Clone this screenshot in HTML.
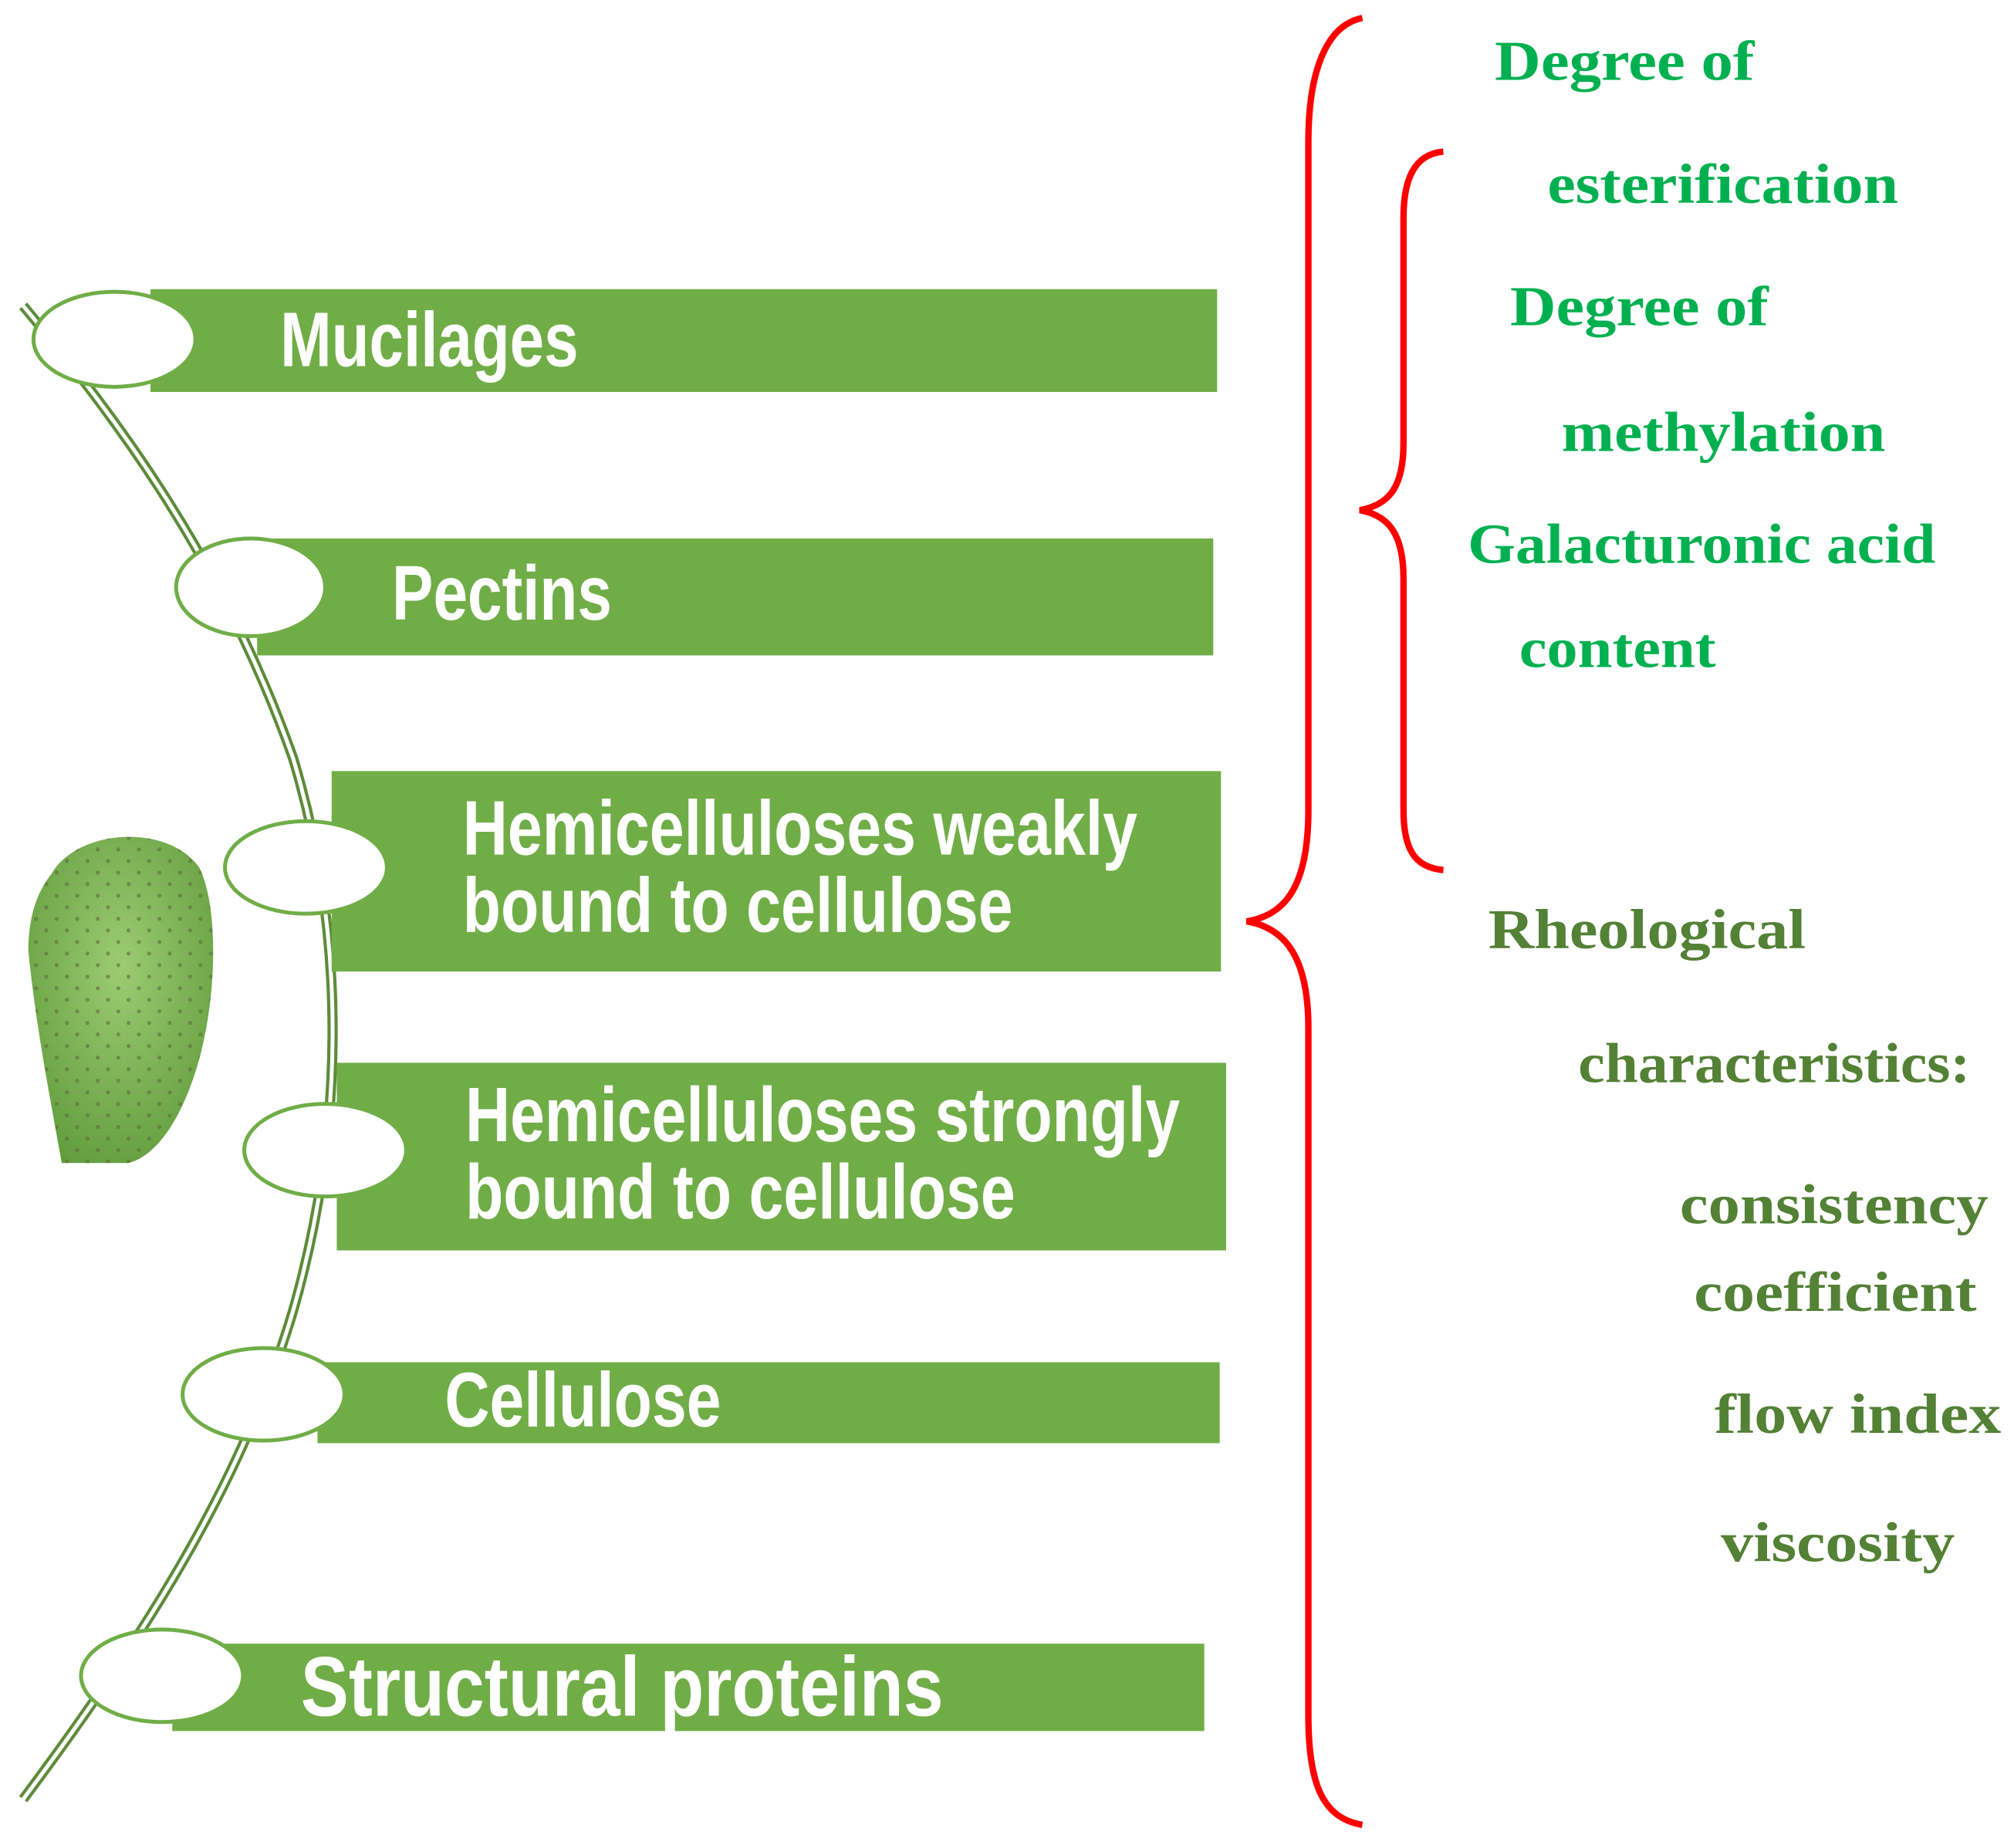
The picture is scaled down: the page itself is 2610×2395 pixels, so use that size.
<!DOCTYPE html>
<html><head><meta charset="utf-8"><style>html,body{margin:0;padding:0;background:#fff}svg{display:block}</style></head>
<body>
<svg width="2610" height="2395" viewBox="0 0 1567 1438" xmlns="http://www.w3.org/2000/svg">
<defs>
<radialGradient id="cg" cx="0.5" cy="0.4" r="0.7">
<stop offset="0" stop-color="#9ccc72"/><stop offset="1" stop-color="#5e9a3a"/></radialGradient>
<pattern id="dots" width="16" height="18" patternUnits="userSpaceOnUse">
<circle cx="4" cy="4" r="1.6" fill="#5a6e3a"/><circle cx="12" cy="13" r="1.6" fill="#5a6e3a"/></pattern>
</defs>
<path d="M18,238 C95,330 175,440 228,590 C270,730 268,880 228,1020 C192,1140 130,1250 18,1400" fill="none" stroke="#5d8b3a" stroke-width="8"/>
<path d="M18,238 C95,330 175,440 228,590 C270,730 268,880 228,1020 C192,1140 130,1250 18,1400" fill="none" stroke="#fff" stroke-width="3"/>
<g fill="#70ad47">
<rect x="117" y="225" width="830" height="80"/>
<rect x="200" y="419" width="744" height="91"/>
<rect x="258" y="600" width="692" height="156"/>
<rect x="262" y="827" width="692" height="146"/>
<rect x="247" y="1060" width="702" height="63"/>
<rect x="134" y="1279" width="803" height="68"/>
</g>
<g fill="#fff" stroke="#70ad47" stroke-width="3">
<ellipse cx="89" cy="264" rx="63" ry="37"/>
<ellipse cx="195" cy="457" rx="58" ry="38"/>
<ellipse cx="238" cy="675" rx="63" ry="36"/>
<ellipse cx="253" cy="895" rx="63" ry="36"/>
<ellipse cx="205" cy="1085" rx="63" ry="36"/>
<ellipse cx="126" cy="1304" rx="63" ry="36"/>
</g>
<g font-family="Liberation Sans, sans-serif" font-weight="bold" fill="#fff" font-size="60">
<text x="218" y="285" textLength="232" lengthAdjust="spacingAndGlyphs">Mucilages</text>
<text x="305" y="482" textLength="171" lengthAdjust="spacingAndGlyphs">Pectins</text>
<text x="360" y="665" textLength="525" lengthAdjust="spacingAndGlyphs">Hemicelluloses weakly</text>
<text x="360" y="725" textLength="428" lengthAdjust="spacingAndGlyphs">bound to cellulose</text>
<text x="362" y="888" textLength="556" lengthAdjust="spacingAndGlyphs">Hemicelluloses strongly</text>
<text x="362" y="948" textLength="428" lengthAdjust="spacingAndGlyphs">bound to cellulose</text>
<text x="346" y="1110" textLength="215" lengthAdjust="spacingAndGlyphs">Cellulose</text>
<text x="234" y="1335" font-size="66" textLength="500" lengthAdjust="spacingAndGlyphs">Structural proteins</text>
</g>
<path d="M40,680 C60,645 130,640 155,675 C172,710 168,790 150,840 C138,875 120,900 100,905 L48,905 C40,860 28,800 22,740 C22,715 28,695 40,680 Z" fill="url(#cg)"/>
<path d="M40,680 C60,645 130,640 155,675 C172,710 168,790 150,840 C138,875 120,900 100,905 L48,905 C40,860 28,800 22,740 C22,715 28,695 40,680 Z" fill="url(#dots)" opacity="0.6"/>
<g fill="none" stroke="#ff0000" stroke-width="5">
<path d="M1060,14 C1030,20 1018,60 1018,110 L1018,630 C1018,690 1000,712 970,717 C1000,722 1018,745 1018,800 L1018,1335 C1018,1390 1030,1415 1060,1420"/>
<path d="M1123,118 C1100,120 1092,140 1092,170 L1092,345 C1092,380 1080,393 1058,397 C1080,401 1092,415 1092,450 L1092,630 C1092,660 1100,675 1123,677"/>
</g>
<g font-family="Liberation Serif, serif" font-weight="bold" font-size="44">
<g fill="#00b050">
<text x="1163" y="62" textLength="202" lengthAdjust="spacingAndGlyphs">Degree of</text>
<text x="1204" y="158" textLength="273" lengthAdjust="spacingAndGlyphs">esterification</text>
<text x="1175" y="253" textLength="201" lengthAdjust="spacingAndGlyphs">Degree of</text>
<text x="1215" y="351" textLength="252" lengthAdjust="spacingAndGlyphs">methylation</text>
<text x="1142" y="438" textLength="364" lengthAdjust="spacingAndGlyphs">Galacturonic acid</text>
<text x="1182" y="519" textLength="153" lengthAdjust="spacingAndGlyphs">content</text>
</g>
<g fill="#538135">
<text x="1158" y="738" textLength="247" lengthAdjust="spacingAndGlyphs">Rheological</text>
<text x="1228" y="842" textLength="305" lengthAdjust="spacingAndGlyphs">characteristics:</text>
<text x="1307" y="952" textLength="240" lengthAdjust="spacingAndGlyphs">consistency</text>
<text x="1318" y="1020" textLength="220" lengthAdjust="spacingAndGlyphs">coefficient</text>
<text x="1334" y="1115" textLength="223" lengthAdjust="spacingAndGlyphs">flow index</text>
<text x="1339" y="1215" textLength="182" lengthAdjust="spacingAndGlyphs">viscosity</text>
</g>
</g>
</svg>
</body></html>
